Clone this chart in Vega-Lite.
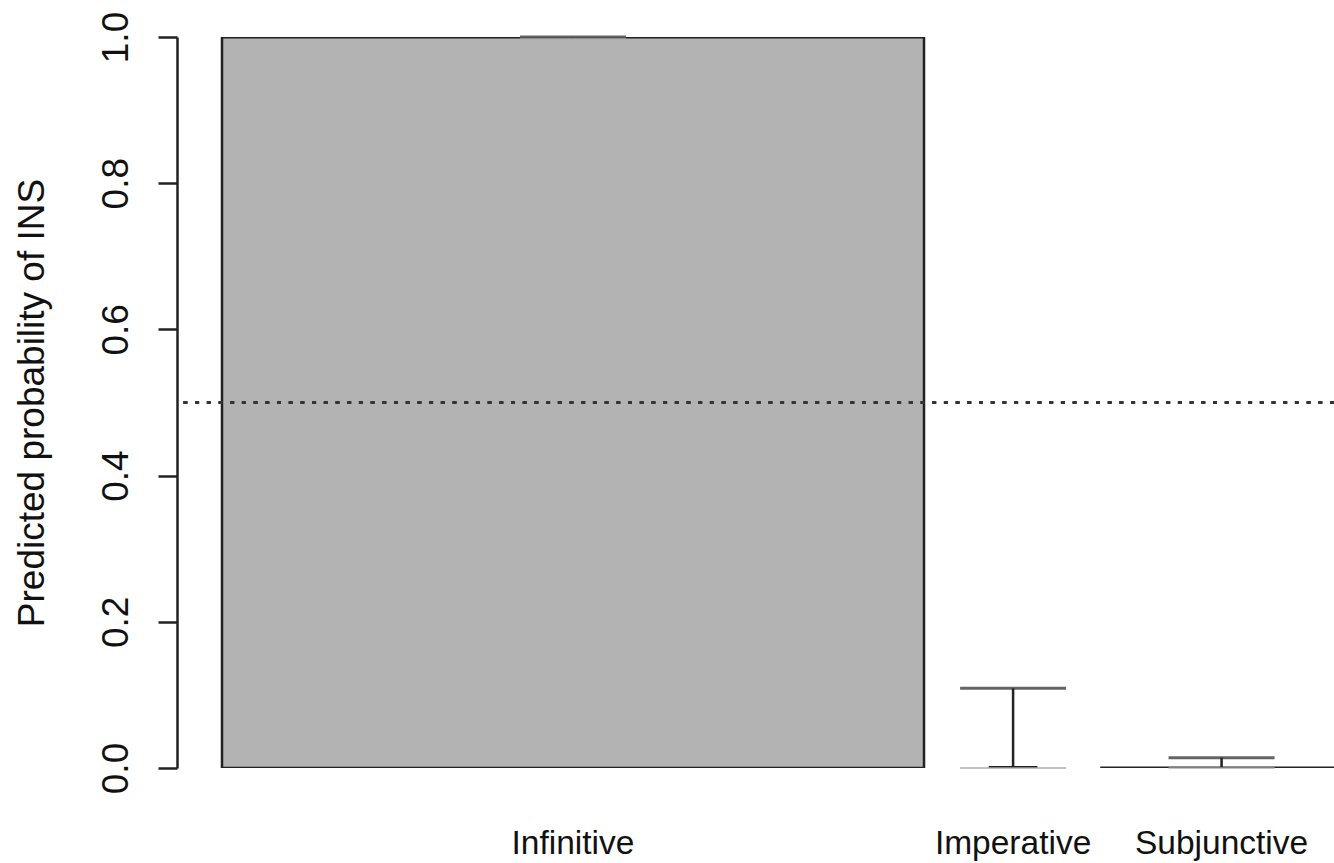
{
  "$schema": "https://vega.github.io/schema/vega-lite/v6.json",
  "autosize": "none",
  "width": 1157,
  "height": 731,
  "padding": {"left": 177, "top": 37, "right": 0, "bottom": 95},
  "background": "white",
  "config": {"view": {"stroke": null}},
  "data": {
    "values": [
      {"mood": "Infinitive", "x1": 1, "x2": 11.64, "p": 0.9995, "lo": 0.998, "hi": 1.0},
      {"mood": "Imperative", "x1": 12.64, "x2": 13.34, "p": 0.001, "lo": 0.0, "hi": 0.109},
      {"mood": "Subjunctive", "x1": 14.33, "x2": 17.97, "p": 0.0005, "lo": 0.0, "hi": 0.014}
    ]
  },
  "transform": [{"calculate": "(datum.x1 + datum.x2) / 2", "as": "mid"}],
  "layer": [
    {
      "mark": {"type": "rect", "fill": "#b3b3b3", "stroke": "#222", "strokeWidth": 2.5, "clip": true},
      "encoding": {
        "x": {"field": "x1", "type": "quantitative", "scale": {"domain": [0.318, 17.854], "nice": false, "zero": false}, "axis": null},
        "x2": {"field": "x2"},
        "y": {"field": "p", "type": "quantitative", "scale": {"domain": [0, 1], "nice": false},
          "axis": {
            "values": [0, 0.2, 0.4, 0.6, 0.8, 1.0],
            "format": ".1f",
            "grid": false,
            "domainColor": "#222", "domainWidth": 2.5,
            "tickColor": "#222", "tickWidth": 2.5, "tickSize": 19,
            "labelAngle": 270, "labelAlign": "center", "labelBaseline": "alphabetic",
            "labelPadding": 31,
            "labelFont": "Liberation Sans", "labelFontSize": 37, "labelColor": "#111",
            "title": "Predicted probability of INS",
            "titleFont": "Liberation Sans", "titleFontSize": 37, "titleFontWeight": "normal", "titleColor": "#111",
            "titleAngle": 270, "titleAlign": "center", "titleBaseline": "alphabetic",
            "titleX": -134, "titleY": 365.5
          }
        },
        "y2": {"datum": 0}
      }
    },
    {
      "mark": {"type": "rule", "color": "#222", "strokeWidth": 2.5},
      "encoding": {
        "x": {"field": "mid", "type": "quantitative"},
        "y": {"field": "lo", "type": "quantitative"},
        "y2": {"field": "hi"}
      }
    },
    {
      "mark": {"type": "tick", "orient": "horizontal", "size": 106, "thickness": 3, "color": "#222"},
      "encoding": {
        "x": {"field": "mid", "type": "quantitative"},
        "y": {"field": "hi", "type": "quantitative"}
      }
    },
    {
      "mark": {"type": "tick", "orient": "horizontal", "size": 106, "thickness": 2, "color": "#aaa"},
      "encoding": {
        "x": {"field": "mid", "type": "quantitative"},
        "y": {"field": "lo", "type": "quantitative"}
      }
    },
    {
      "mark": {"type": "rule", "color": "#333", "strokeWidth": 2.5, "strokeDash": [4, 7.7]},
      "encoding": {"y": {"datum": 0.5}}
    },
    {
      "mark": {"type": "text", "font": "Liberation Sans", "fontSize": 33.5, "color": "#111", "baseline": "alphabetic", "align": "center", "dy": 86},
      "encoding": {
        "x": {"field": "mid", "type": "quantitative"},
        "y": {"datum": 0},
        "text": {"field": "mood"}
      }
    }
  ]
}
